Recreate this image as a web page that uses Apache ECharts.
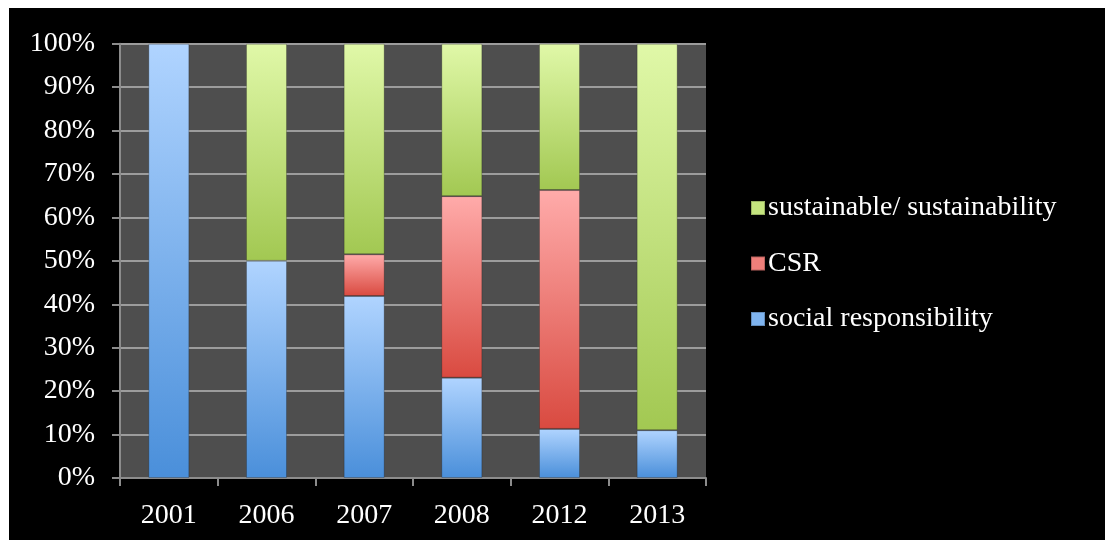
<!DOCTYPE html>
<html>
<head>
<meta charset="utf-8">
<script src="https://cdn.jsdelivr.net/npm/echarts@6/dist/echarts.min.js"></script>
<style>
html,body{margin:0;padding:0;background:#ffffff;width:1105px;height:540px;overflow:hidden;}
#chart{position:absolute;left:9px;top:8px;width:1096px;height:532px;background:#000;}
</style>
</head>
<body>
<div id="chart"></div>
<script>
const years = ['2001','2006','2007','2008','2012','2013'];
const socialResponsibility = [100, 50, 41.9, 23.1, 11.3, 11.0];
const csr = [0, 0, 9.6, 41.8, 55.0, 0];
const sustainable = [0, 50, 48.5, 35.1, 33.7, 89.0];
const seriesNames = ['social responsibility', 'CSR', 'sustainable/ sustainability'];
const yTicks = [0,10,20,30,40,50,60,70,80,90,100];

const FONT = 'Liberation Serif';
function grad(top, bottom){
  return {type:'linear', x:0, y:0, x2:0, y2:1, colorStops:[{offset:0,color:top},{offset:1,color:bottom}]};
}
const styles = [
  {color: grad('#b0d4ff','#4a8fda'), legend:'#7fb4ef'},
  {color: grad('#ffabaa','#d94a40'), legend:'#ef7f7a'},
  {color: grad('#e0f8a8','#a2c852'), legend:'#c4e47e'}
];
const datas = [socialResponsibility, csr, sustainable];

const chart = echarts.init(document.getElementById('chart'));
chart.setOption({
  backgroundColor:'#000000',
  animation:false,
  grid:{left:111, top:35.7, right:399, bottom:62, show:true, backgroundColor:'#4e4e4e', borderWidth:0},
  legend:{
    orient:'vertical', left:736, top:181, itemGap:27.5, itemWidth:14, itemHeight:14, icon:'rect',
    data:[
      {name:seriesNames[2], itemStyle:{color:styles[2].legend}},
      {name:seriesNames[1], itemStyle:{color:styles[1].legend}},
      {name:seriesNames[0], itemStyle:{color:styles[0].legend}}
    ],
    textStyle:{color:'#ffffff', fontFamily:FONT, fontSize:28, padding:[0,0,0,-2]}
  },
  xAxis:{
    type:'category', data:years,
    axisLine:{show:true, lineStyle:{color:'#8c8c8c', width:2}},
    axisTick:{show:true, interval:0, length:8, lineStyle:{color:'#8c8c8c', width:2}},
    axisLabel:{color:'#ffffff', fontFamily:FONT, fontSize:28, margin:24},
    splitLine:{show:false}
  },
  yAxis:{
    type:'value', min:yTicks[0], max:yTicks[yTicks.length-1], interval:10,
    axisLine:{show:true, lineStyle:{color:'#8c8c8c', width:2}},
    axisTick:{show:true, length:8, lineStyle:{color:'#8c8c8c', width:2}},
    axisLabel:{color:'#ffffff', fontFamily:FONT, fontSize:28, margin:25, formatter:'{value}%'},
    splitLine:{show:true, lineStyle:{color:'#9c9c9c', width:2}}
  },
  series: seriesNames.map((n,i)=>({
    name:n, type:'bar', stack:'total', barWidth:'42%', data:datas[i].map(v => v === 0 ? '-' : v),
    itemStyle:{color:styles[i].color, borderColor:'rgba(0,0,0,0.22)', borderWidth:1}
  }))
});
</script>
</body>
</html>
